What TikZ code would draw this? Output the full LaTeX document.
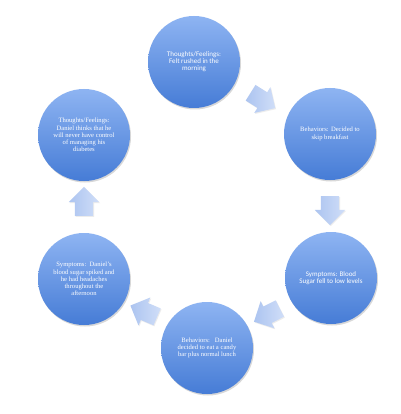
\documentclass[tikz,border=0pt]{standalone}
\usepackage{fontspec}
\setmainfont{Liberation Serif}
\newfontfamily\gsans{Carlito}
\usetikzlibrary{shapes.arrows,shadows}
\definecolor{cirtop}{RGB}{142,180,242}
\definecolor{cirbot}{RGB}{70,124,214}
\definecolor{arrtail}{RGB}{172,196,240}
\definecolor{arrtip}{RGB}{208,222,248}
\tikzset{
  stage/.style={circle, minimum size=92pt, inner sep=0pt, align=center,
    top color=cirtop, bottom color=cirbot, text=white,
    drop shadow={shadow xshift=1pt, shadow yshift=-1.5pt, opacity=0.25, fill=black!60}},
  serifsmall/.style={font=\fontsize{6.6}{7.2}\selectfont},
  sanssmall/.style={font=\gsans\fontsize{7}{7}\selectfont},
  cyarrow/.style={single arrow, minimum height=29pt, inner xsep=0pt, inner ysep=9pt,
    single arrow head extend=6pt, single arrow head indent=0pt,
    left color=arrtail, right color=arrtip,
    drop shadow={shadow xshift=0.8pt, shadow yshift=-1pt, opacity=0.15, fill=black!50}}
}
\begin{document}
\begin{tikzpicture}[x=1pt,y=-1pt]
\useasboundingbox (0,0) rectangle (400,414);
\fill[white] (0,0) rectangle (400,414);
\node[stage, sanssmall] (n1) at (194,62) {Thoughts/Feelings:\\Felt rushed in the\\morning};
\node[stage, serifsmall] (n2) at (330,134) {Behaviors: Decided to\\skip breakfast};
\node[stage, sanssmall] (n3) at (331,278) {Symptoms: Blood\\Sugar fell to low levels};
\node[stage, serifsmall] (n4) at (207,348) {Behaviors:\ \ \ Daniel\\decided to eat a candy\\bar plus normal lunch};
\node[stage, serifsmall] (n5) at (84,279) {Symptoms:\ \ Daniel's\\blood sugar spiked and\\he had headaches\\throughout the\\afternoon};
\node[stage, serifsmall] (n6) at (84,135) {Thoughts/Feelings:\\Daniel thinks that he\\will never have control\\of managing his\\diabetes};
\node[cyarrow, rotate=-32] (a1) at (259,98) {};
\node[cyarrow, rotate=-90] (a2) at (330,206) {};
\node[cyarrow, rotate=-153] (a3) at (271,313) {};
\node[cyarrow, rotate=157] (a4) at (148,313) {};
\node[cyarrow, rotate=90] (a5) at (84,206) {};
\end{tikzpicture}
\end{document}
